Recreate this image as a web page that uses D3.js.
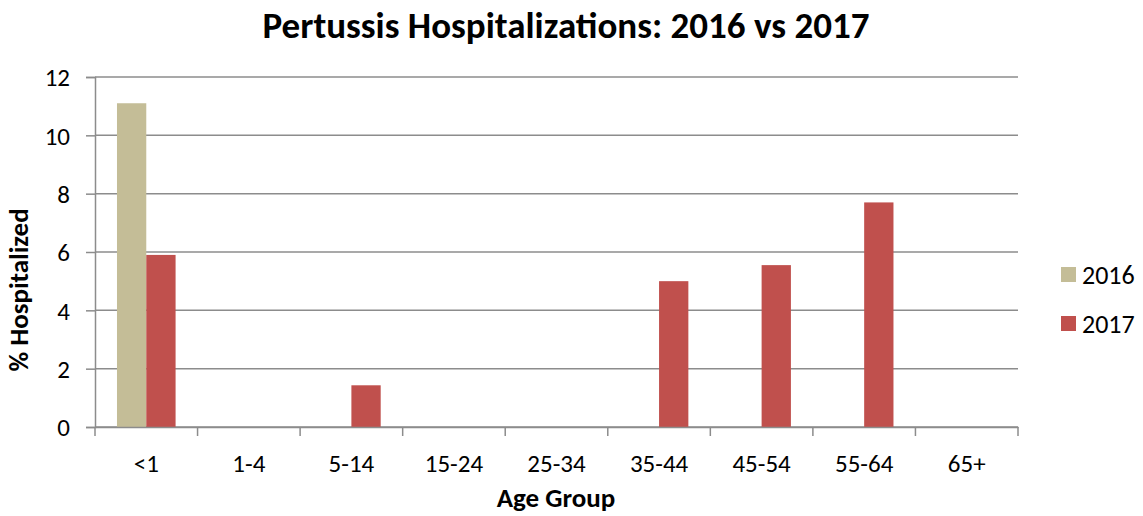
<!DOCTYPE html>
<html>
<head>
<meta charset="utf-8">
<script src="https://cdn.jsdelivr.net/npm/d3@7"></script>
<style>
body { margin: 0; background: #fff; }
text { font-family: Carlito, Calibri, "Open Sans", sans-serif; fill: #000; }
</style>
</head>
<body>
<script>
var w = 1143;
var h = 516;

var ageGroups = ["<1", "1-4", "5-14", "15-24", "25-34", "35-44", "45-54", "55-64", "65+"];
var years = ["2016", "2017"];
var values2016 = [11.1, 0, 0, 0, 0, 0, 0, 0, 0];
var values2017 = [5.9, 0, 1.43, 0, 0, 5.0, 5.55, 7.7, 0];
var yTicks = [0, 2, 4, 6, 8, 10, 12];
var colors = ["#C4BD97", "#C0504D"];

var margin = {left: 95, right: 125, top: 77, bottom: 89};

var svg = d3.select("body")
    .append("svg")
    .attr("width", w)
    .attr("height", h);

var xScale = d3.scaleBand()
    .domain(ageGroups)
    .range([margin.left, w - margin.right]);

var inner = d3.scaleBand()
    .domain(years)
    .range([0, xScale.bandwidth()])
    .paddingInner(0)
    .paddingOuter(0.75);

var yScale = d3.scaleLinear()
    .domain([0, 12])
    .range([h - margin.bottom, margin.top]);

// gridlines
svg.append("g")
    .selectAll("line")
    .data(yTicks)
    .enter()
    .append("line")
    .attr("x1", margin.left)
    .attr("x2", w - margin.right)
    .attr("y1", d => yScale(d))
    .attr("y2", d => yScale(d))
    .attr("stroke", "#8c8c8c")
    .attr("stroke-width", 1.5);

var rows = ageGroups.map((g, i) => ({group: g, vals: [values2016[i], values2017[i]]}));

svg.append("g")
    .selectAll("g")
    .data(rows)
    .enter()
    .append("g")
    .attr("transform", d => `translate(${xScale(d.group)},0)`)
    .selectAll("rect")
    .data(d => d.vals.map((v, j) => ({year: years[j], value: v, c: colors[j]})))
    .enter()
    .append("rect")
    .attr("x", d => inner(d.year))
    .attr("width", inner.bandwidth())
    .attr("y", d => yScale(d.value))
    .attr("height", d => yScale(0) - yScale(d.value))
    .attr("fill", d => d.c);

var yAxis = d3.axisLeft(yScale)
    .tickValues(yTicks)
    .tickSize(9)
    .tickPadding(16);

var yG = svg.append("g")
    .attr("transform", `translate(${margin.left},0)`)
    .call(yAxis);

var xAxis = d3.axisBottom(xScale)
    .tickSize(0)
    .tickPadding(27);

var xG = svg.append("g")
    .attr("transform", `translate(0,${yScale(0)})`)
    .call(xAxis);

// category boundary ticks
var bounds = ageGroups.map(g => xScale(g)).concat([w - margin.right]);
xG.selectAll(".bound")
    .data(bounds)
    .enter()
    .append("line")
    .attr("class", "bound")
    .attr("x1", d => d)
    .attr("x2", d => d)
    .attr("y1", 0)
    .attr("y2", 9)
    .attr("stroke", "#8c8c8c")
    .attr("stroke-width", 1.5);

[yG, xG].forEach(g => {
    g.select(".domain").attr("stroke", "#8c8c8c").attr("stroke-width", 1.5);
    g.selectAll(".tick line").attr("stroke", "#8c8c8c").attr("stroke-width", 1.5);
    g.selectAll(".tick text")
        .attr("fill", "#000")
        .style("font-size", "25px")
        .style("font-family", "Carlito, Calibri, 'Open Sans', sans-serif");
});
yG.selectAll(".tick text").attr("dy", "0.35em");

// title
svg.append("text")
    .attr("x", 566)
    .attr("y", 38)
    .attr("text-anchor", "middle")
    .style("font-size", "37px")
    .style("font-weight", "bold")
    .text("Pertussis Hospitalizations: 2016 vs 2017");

svg.append("text")
    .attr("x", 556)
    .attr("y", 507)
    .attr("text-anchor", "middle")
    .style("font-size", "27px")
    .style("font-weight", "bold")
    .text("Age Group");

svg.append("text")
    .attr("transform", "translate(28,290) rotate(-90)")
    .attr("text-anchor", "middle")
    .style("font-size", "27px")
    .style("font-weight", "bold")
    .text("% Hospitalized");

// legend
var legend = svg.append("g")
    .selectAll("g")
    .data(years)
    .enter()
    .append("g")
    .attr("transform", (d, i) => `translate(1061,${267 + i * 49})`);

legend.append("rect")
    .attr("width", 15)
    .attr("height", 15)
    .attr("fill", (d, i) => colors[i]);

legend.append("text")
    .attr("x", 21)
    .attr("y", 8)
    .attr("dy", "0.35em")
    .style("font-size", "26px")
    .text(d => d);
</script>
</body>
</html>
